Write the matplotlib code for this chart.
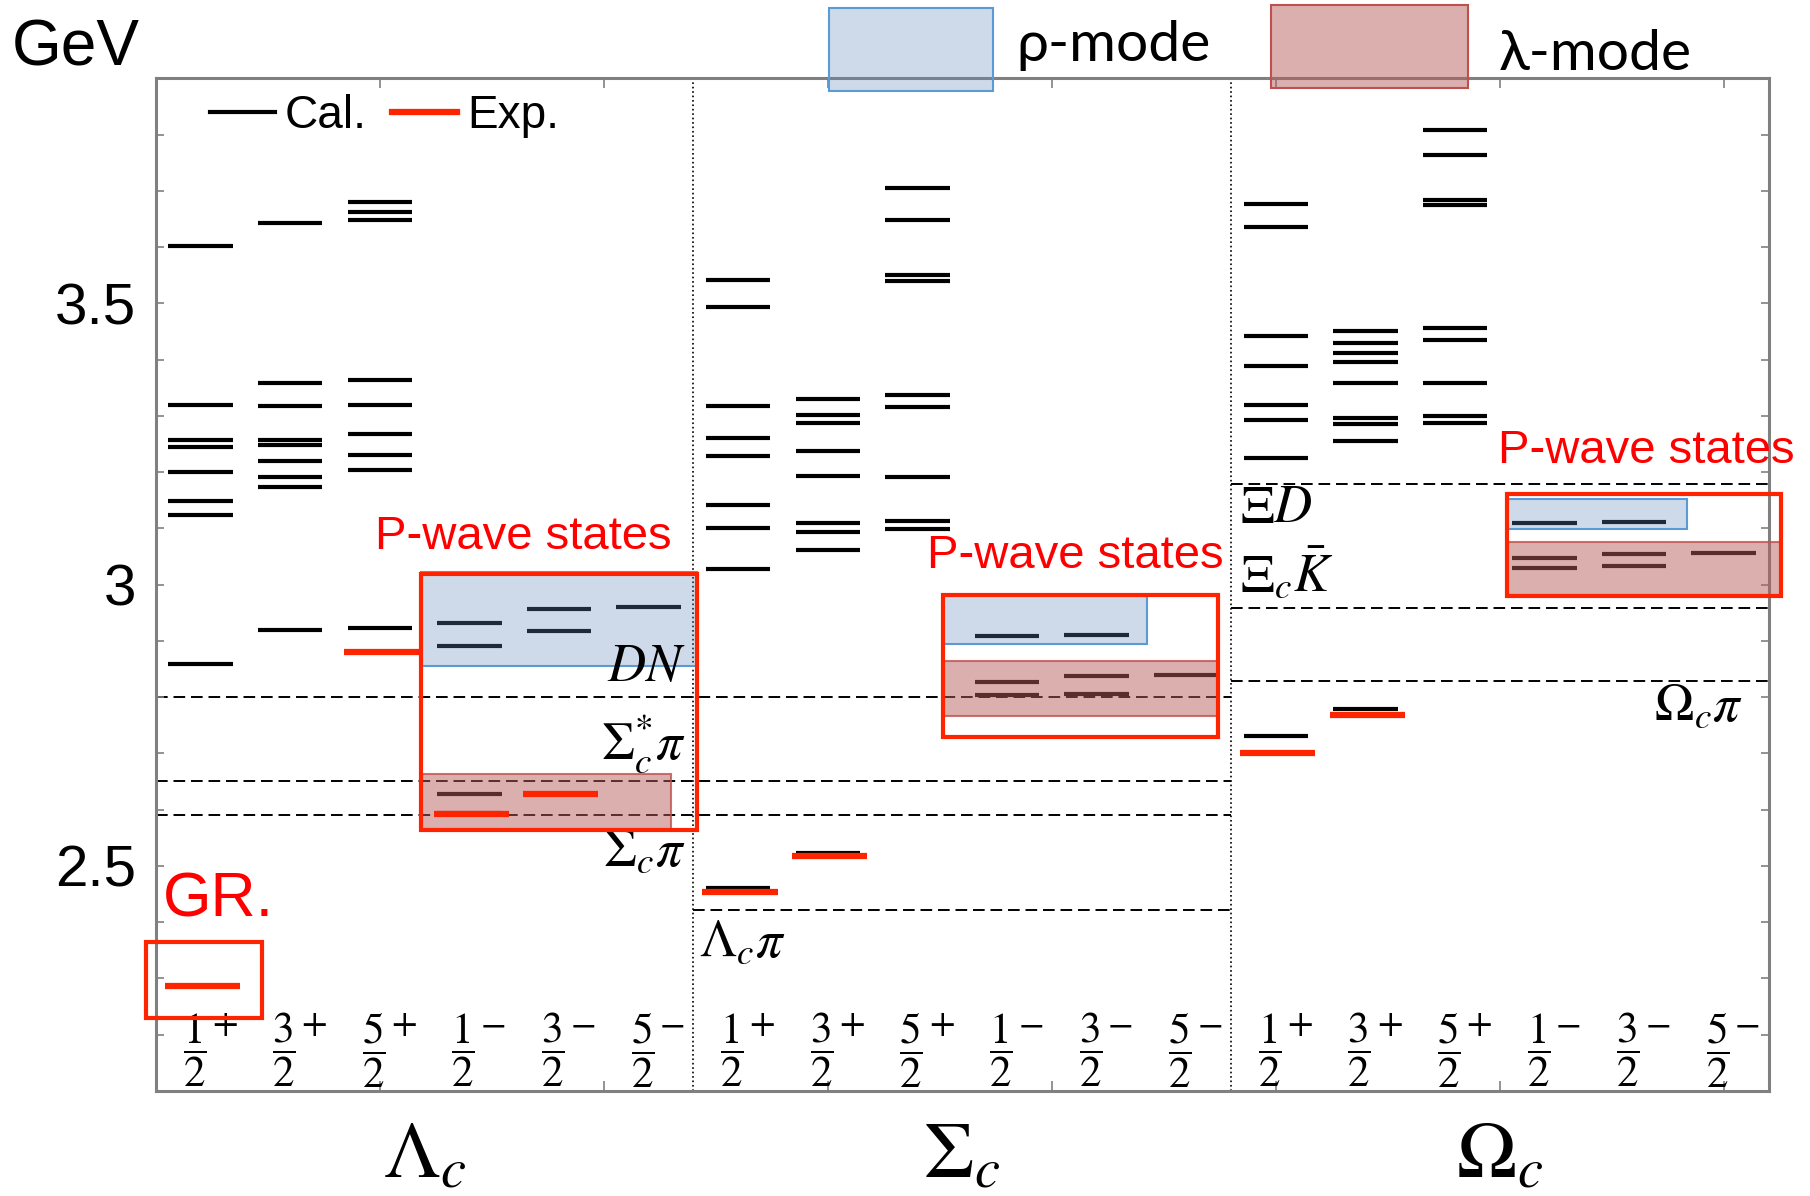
import matplotlib.pyplot as plt
from matplotlib.lines import Line2D
from matplotlib.patches import Rectangle
from matplotlib.ticker import FixedLocator, MultipleLocator

plt.rcParams["mathtext.fontset"] = "stix"

SANS = ["Liberation Sans", "DejaVu Sans"]
NARROW = ["Liberation Sans Narrow", "DejaVu Sans Condensed", "Liberation Sans"]
RED = "#ff2400"

# J^P columns, repeated in each baryon panel
jp_spin = [r"$\dfrac{1}{2}$", r"$\dfrac{3}{2}$", r"$\dfrac{5}{2}$",
           r"$\dfrac{1}{2}$", r"$\dfrac{3}{2}$", r"$\dfrac{5}{2}$"]
jp_parity = ["+", "+", "+", "\u2212", "\u2212", "\u2212"]
panel_names = [r"$\Lambda_c$", r"$\Sigma_c$", r"$\Omega_c$"]

# calculated masses in GeV, one list per J^P column
lambda_c_cal = [
    [2.286, 2.858, 3.123, 3.148, 3.201, 3.244, 3.258, 3.319, 3.602],
    [2.920, 3.174, 3.192, 3.219, 3.249, 3.257, 3.318, 3.359, 3.643],
    [2.881, 2.922, 3.203, 3.230, 3.268, 3.320, 3.363, 3.648, 3.663, 3.681],
    [2.593, 2.628, 2.891, 2.932],
    [2.628, 2.917, 2.957],
    [2.960],
]
sigma_c_cal = [
    [2.460, 3.028, 3.101, 3.141, 3.228, 3.260, 3.317, 3.493, 3.542],
    [2.522, 3.062, 3.094, 3.109, 3.193, 3.238, 3.288, 3.302, 3.330],
    [3.098, 3.113, 3.191, 3.316, 3.338, 3.540, 3.550, 3.649, 3.705],
    [2.803, 2.826, 2.909],
    [2.806, 2.838, 2.911],
    [2.840],
]
omega_c_cal = [
    [2.730, 3.226, 3.292, 3.320, 3.389, 3.442, 3.635, 3.677],
    [2.779, 3.256, 3.285, 3.297, 3.359, 3.395, 3.411, 3.429, 3.451],
    [3.288, 3.299, 3.359, 3.435, 3.457, 3.675, 3.684, 3.764, 3.808],
    [3.030, 3.047, 3.110],
    [3.033, 3.055, 3.111],
    [3.057],
]

# measured masses in GeV
lambda_c_exp = [[2.286], [], [2.881], [2.592], [2.628], []]
sigma_c_exp = [[2.454], [2.518], [], [], [], []]
omega_c_exp = [[2.700], [2.768], [], [], [], []]

# two-body thresholds in GeV and the panels they run across
threshold_names = [r"$DN$", r"$\Sigma_c^{*}\pi$", r"$\Sigma_c\pi$", r"$\Lambda_c\pi$",
                   r"$\Xi D$", r"$\Xi_c\bar{K}$", r"$\Omega_c\pi$"]
threshold_mass = [2.801, 2.650, 2.590, 2.422, 3.179, 2.958, 2.828]
threshold_panels = [(0, 1), (0, 1), (0, 1), (1, 1), (2, 2), (2, 2), (2, 2)]

calc_sets = [lambda_c_cal, sigma_c_cal, omega_c_cal]
exp_sets = [lambda_c_exp, sigma_c_exp, omega_c_exp]

fig = plt.figure(figsize=(18.1, 11.96), dpi=100)
ax = fig.add_axes([0.0861, 0.0880, 0.891, 0.8464])
ax.set_xlim(0, 18)
ax.set_ylim(2.1, 3.9)

# energy levels
for p, (cal, exp) in enumerate(zip(calc_sets, exp_sets)):
    for j in range(6):
        xc = 6 * p + j + 0.5
        if cal[j]:
            ax.hlines(cal[j], xc - 0.36, xc + 0.36, colors="black", lw=3, zorder=2)
        if exp[j]:
            ax.hlines(exp[j], xc - 0.40, xc + 0.44, colors=RED, lw=4.5, zorder=6)

# thresholds
for name, m, (p0, p1) in zip(threshold_names, threshold_mass, threshold_panels):
    ax.hlines(m, 6 * p0, 6 * (p1 + 1), colors="black", lw=1.4,
              linestyles=(0, (6, 3)), zorder=1)

label_spots = [(5.92, 2.856, "right"), (5.92, 2.717, "right"), (5.92, 2.527, "right"),
               (6.06, 2.365, "left"), (12.1, 3.138, "left"), (12.1, 3.018, "left"),
               (17.72, 2.785, "right")]
for name, (lx, ly, ha) in zip(threshold_names, label_spots):
    ax.text(lx, ly, name, fontsize=38, ha=ha, va="center", zorder=7)

# panel separators
for xs in (6, 12):
    ax.axvline(xs, color="black", lw=1.2, ls=":", zorder=1)

# J^P labels inside the frame, panel names below it
for p in range(3):
    for j in range(6):
        xc = 6 * p + j + 0.5
        ax.text(xc - 0.07, 2.172, jp_spin[j], fontsize=31, ha="center", va="center")
        ax.text(xc + 0.27, 2.215, jp_parity[j], fontsize=27, family="STIXGeneral",
                ha="center", va="center")
    ax.text(6 * p + 3.0, 1.985, panel_names[p], fontsize=58, ha="center",
            va="center", clip_on=False)

# rho / lambda mode shading
blue_fill = dict(facecolor="#6187bb", alpha=0.31, edgecolor="none", zorder=4)
red_fill = dict(facecolor="#b85c5c", alpha=0.49, edgecolor="none", zorder=4)
blue_edge = dict(facecolor="none", edgecolor="#5b9bd5", lw=1.5, zorder=4)
red_edge = dict(facecolor="none", edgecolor="#c0504d", lw=1.5, alpha=0.8, zorder=4)

rho_boxes = [(2.96, 2.855, 3.08, 0.167), (8.79, 2.895, 2.27, 0.084),
             (15.08, 3.099, 2.01, 0.053)]
lam_boxes = [(2.96, 2.565, 2.79, 0.098), (8.79, 2.766, 3.07, 0.098),
             (15.08, 2.982, 3.06, 0.093)]
for x0, y0, w, h in rho_boxes:
    ax.add_patch(Rectangle((x0, y0), w, h, clip_on=False, **blue_fill))
    ax.add_patch(Rectangle((x0, y0), w, h, clip_on=False, **blue_edge))
for x0, y0, w, h in lam_boxes:
    ax.add_patch(Rectangle((x0, y0), w, h, clip_on=False, **red_fill))
    ax.add_patch(Rectangle((x0, y0), w, h, clip_on=False, **red_edge))

# P-wave and ground-state frames
frames = [(2.96, 2.563, 3.08, 0.456), (8.79, 2.729, 3.07, 0.252),
          (15.08, 2.979, 3.06, 0.182), (-0.11, 2.230, 1.29, 0.135)]
for x0, y0, w, h in frames:
    ax.add_patch(Rectangle((x0, y0), w, h, facecolor="none", edgecolor=RED,
                           lw=3, clip_on=False, zorder=8))

for tx, ty in [(4.10, 3.085), (10.26, 3.050), (16.64, 3.237)]:
    ax.text(tx, ty, "P-wave states", color="red", fontsize=34, family=SANS,
            ha="center", va="center", zorder=9, clip_on=False)
ax.text(0.08, 2.44, "GR.", color="red", fontsize=45, family=SANS,
        ha="left", va="center")

# mode key above the frame
ax.add_patch(Rectangle((7.51, 3.877), 1.83, 0.148, facecolor="#6187bb", alpha=0.31,
                       edgecolor="none", clip_on=False, zorder=6))
ax.add_patch(Rectangle((7.51, 3.877), 1.83, 0.148, facecolor="none",
                       edgecolor="#5b9bd5", lw=1.5, clip_on=False, zorder=6))
ax.add_patch(Rectangle((12.45, 3.883), 2.20, 0.148, facecolor="#b85c5c", alpha=0.49,
                       edgecolor="none", clip_on=False, zorder=6))
ax.add_patch(Rectangle((12.45, 3.883), 2.20, 0.148, facecolor="none",
                       edgecolor="#c0504d", lw=1.5, clip_on=False, zorder=6))
ax.text(9.60, 3.959, "ρ-mode", fontsize=41, family=["Lato", "DejaVu Sans"],
        ha="left", va="center", clip_on=False)
ax.text(14.99, 3.943, "λ-mode", fontsize=41, family=["Lato", "DejaVu Sans"],
        ha="left", va="center", clip_on=False)

# Cal./Exp. key
key = [Line2D([], [], color="black", lw=3), Line2D([], [], color=RED, lw=4.5)]
ax.legend(key, ["Cal.", "Exp."], ncol=2, loc="center left",
          bbox_to_anchor=(0.0333, 0.963), frameon=False,
          prop={"family": NARROW, "size": 33}, handlelength=1.42,
          handletextpad=0.22, columnspacing=0.55, borderpad=0, borderaxespad=0)

fig.text(0.0064, 0.9594, "GeV", fontsize=46, family=SANS, va="center", ha="left")

# frame and ticks
for side in ax.spines.values():
    side.set_color("#808080")
    side.set_linewidth(2.2)
ax.yaxis.set_major_locator(FixedLocator([2.5, 3.0, 3.5]))
ax.set_yticklabels(["2.5", "3", "3.5"], family=SANS, fontsize=42)
ax.yaxis.set_minor_locator(MultipleLocator(0.1))
ax.xaxis.set_major_locator(MultipleLocator(2.5))
ax.tick_params(axis="y", which="both", direction="in", left=True, right=True,
               length=6, width=1.2, color="#808080", pad=14)
ax.tick_params(axis="x", which="both", direction="in", top=True, bottom=True,
               length=7, width=1.2, color="#808080", labelbottom=False)

fig.savefig("out.png", dpi=100)
